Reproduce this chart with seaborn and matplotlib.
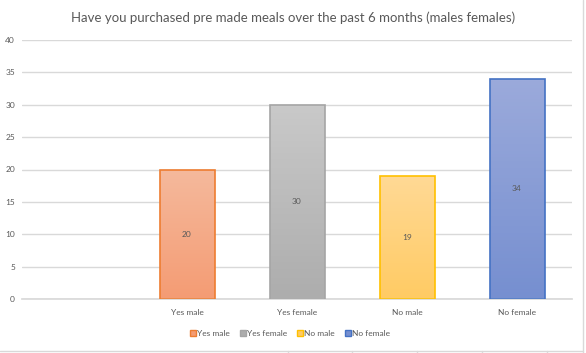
import numpy as np
import pandas as pd
import seaborn as sns
import matplotlib.pyplot as plt
from matplotlib.colors import LinearSegmentedColormap
from matplotlib.patches import Patch
from matplotlib.lines import Line2D

# data (first slot is empty in the original)
categories = ["", "Yes male", "Yes female", "No male", "No female"]
values = [np.nan, 20, 30, 19, 34]
edge_colors = ["#FFFFFF", "#ED7D31", "#A5A5A5", "#FFC000", "#4472C4"]
top_colors = ["#FFFFFF", "#F5B99C", "#C9C9C9", "#FFD995", "#9BAADB"]
bottom_colors = ["#FFFFFF", "#F49C74", "#ADADAD", "#FFCB64", "#768FD0"]
title = "Have you purchased pre made meals over the past 6 months (males females)"

df = pd.DataFrame({"category": categories, "value": values})

sns.set_theme(style="white")
plt.rcParams["font.family"] = ["Lato", "DejaVu Sans"]
text_col = "#595959"
grid_col = "#D9D9D9"

fig = plt.figure(figsize=(5.86, 3.53), dpi=100)
ax = fig.add_axes([22 / 586, 54 / 353, 550 / 586, 259 / 353])

palette = dict(zip(categories, edge_colors))
sns.barplot(data=df, x="category", y="value", hue="category", order=categories,
            hue_order=categories, palette=palette, width=0.5, legend=False,
            ax=ax, zorder=3, linewidth=1.2)

# gradient fill, clipped to each bar
bar_patches = [p for p in ax.patches if np.isfinite(p.get_height()) and p.get_height() > 0]
for p in bar_patches:
    x0, w, h = p.get_x(), p.get_width(), p.get_height()
    xc = x0 + w / 2
    idx = int(round(xc))
    p.set_facecolor("none")
    p.set_edgecolor(edge_colors[idx])
    cmap = LinearSegmentedColormap.from_list("g", [bottom_colors[idx], top_colors[idx]])
    grad = np.linspace(0, 1, 64).reshape(-1, 1)
    im = ax.imshow(grad, extent=[x0, x0 + w, 0, h], origin="lower", aspect="auto",
                   cmap=cmap, zorder=2.5)
    im.set_clip_path(p)
    ax.text(xc, h / 2, f"{int(h)}", ha="center", va="center", fontsize=6,
            color=text_col, zorder=4)

ax.set_xlim(-0.5, 4.5)
ax.set_ylim(0, 40)
ax.set_yticks(range(0, 41, 5))
ax.yaxis.grid(True, color=grid_col, linewidth=1)
ax.set_axisbelow(True)
for s in ["top", "right", "left"]:
    ax.spines[s].set_visible(False)
ax.spines["bottom"].set_color(grid_col)
ax.tick_params(axis="both", length=0, labelsize=6, labelcolor=text_col, pad=7)
ax.tick_params(axis="y", pad=5)
ax.set_xlabel("")
ax.set_ylabel("")

fig.text(293 / 586, 1 - 18 / 353, title, ha="center", va="center", fontsize=9.5,
         color=text_col)

handles = [Patch(facecolor=bottom_colors[i], edgecolor=edge_colors[i], linewidth=1)
           for i in range(1, 5)]
fig.legend(handles, categories[1:], loc="center", bbox_to_anchor=(290 / 586, 1 - 333 / 353),
           ncol=4, frameon=False, fontsize=6, handlelength=0.7, handleheight=0.7,
           handletextpad=0.15, columnspacing=1.2, labelcolor=text_col)

# faint chart frame (right and bottom edge) and the sheet cell lines below it
fig.add_artist(Line2D([583 / 586, 583 / 586], [0, 1], color=grid_col, linewidth=1))
fig.add_artist(Line2D([0, 583 / 586], [2 / 353, 2 / 353], color=grid_col, linewidth=1))
for cx in [288, 352, 417, 482, 547]:
    fig.add_artist(Line2D([cx / 586, cx / 586], [0, 2 / 353], color=grid_col, linewidth=1))

fig.savefig("out.png", dpi=100)
